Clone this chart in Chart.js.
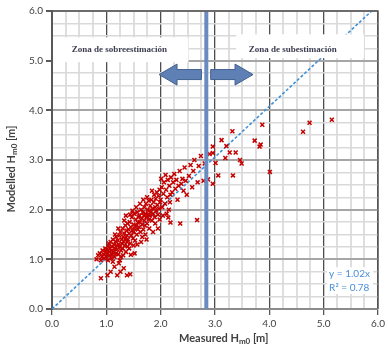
<!DOCTYPE html>
<html>
<head>
<meta charset="utf-8">
<script src="https://cdn.jsdelivr.net/npm/chart.js@4/dist/chart.umd.min.js"></script>
<style>
  body { margin: 0; background: #fff; }
</style>
</head>
<body>
<canvas id="waveChart" width="388" height="345"></canvas>
<script>
// measured vs modelled Hm0 [m]
const measuredH = [
  0.82, 0.85, 0.88, 0.90, 0.92, 0.93, 0.95, 0.96, 0.98, 0.99,
  0.90, 1.02, 1.08, 1.20, 1.26, 1.38, 1.44, 1.23, 1.15, 1.32,
  1.00, 1.01, 1.02, 1.03, 1.04, 1.05, 1.06, 1.07, 1.08, 1.09,
  1.10, 1.10, 1.11, 1.12, 1.13, 1.14, 1.15, 1.16, 1.17, 1.18,
  1.18, 1.19, 1.05, 1.12, 1.16,
  1.20, 1.21, 1.22, 1.23, 1.24, 1.25, 1.26, 1.27, 1.28, 1.29,
  1.30, 1.30, 1.31, 1.32, 1.33, 1.34, 1.35, 1.35, 1.36, 1.37,
  1.38, 1.38, 1.39, 1.39, 1.22, 1.27, 1.33, 1.36, 1.25, 1.31,
  1.40, 1.41, 1.42, 1.43, 1.44, 1.45, 1.46, 1.47, 1.48, 1.49,
  1.50, 1.50, 1.51, 1.52, 1.53, 1.54, 1.55, 1.56, 1.57, 1.58,
  1.58, 1.59, 1.42, 1.48, 1.55, 1.45, 1.52, 1.57, 1.44, 1.50,
  1.60, 1.61, 1.62, 1.63, 1.64, 1.65, 1.66, 1.67, 1.68, 1.69,
  1.70, 1.70, 1.71, 1.72, 1.73, 1.74, 1.75, 1.76, 1.77, 1.78,
  1.78, 1.79, 1.62, 1.66, 1.72, 1.75, 1.68, 1.79, 1.64, 1.74,
  1.80, 1.81, 1.82, 1.83, 1.84, 1.85, 1.86, 1.87, 1.88, 1.89,
  1.90, 1.91, 1.92, 1.93, 1.94, 1.95, 1.96, 1.97, 1.98, 1.99,
  1.84, 1.90, 1.95, 1.86, 1.98,
  2.00, 2.02, 2.03, 2.05, 2.06, 2.08, 2.10, 2.12, 2.13, 2.15,
  2.16, 2.18, 2.19, 2.04, 2.11, 2.14, 2.18, 2.09, 2.17, 2.01,
  2.21, 2.23, 2.25, 2.27, 2.29, 2.31, 2.33, 2.35, 2.36, 2.38,
  2.40, 2.42, 2.44, 2.46, 2.48,
  2.52, 2.55, 2.58, 2.60, 2.62, 2.67, 2.68, 2.70, 2.74, 2.79,
  2.81, 2.87, 2.90, 2.96, 2.96, 2.96, 3.01,
  3.06, 3.19, 3.21, 3.27, 3.32, 3.33, 3.38, 3.46, 3.49, 3.12,
  3.73, 3.82, 3.84, 3.87, 4.01, 4.62, 4.74, 5.15
];
const modelledH = [
  1.00, 1.08, 1.12, 0.98, 1.05, 1.18, 1.10, 1.02, 1.22, 1.14,
  0.62, 0.68, 0.75, 0.68, 0.75, 0.68, 0.70, 0.92, 0.85, 0.82,
  1.05, 1.20, 1.12, 0.98, 1.28, 1.15, 1.08, 1.22, 1.35, 1.02,
  1.18, 1.26, 1.10, 1.40, 1.15, 1.30, 1.05, 1.22, 1.36, 1.12,
  1.45, 1.28, 1.32, 0.95, 1.50,
  1.20, 1.38, 1.10, 1.30, 1.48, 1.25, 1.55, 1.18, 1.40, 1.32,
  1.62, 1.22, 1.45, 1.36, 1.52, 1.28, 1.68, 1.42, 1.15, 1.58,
  1.35, 1.48, 1.72, 1.26, 1.62, 1.05, 1.78, 1.88, 0.98, 1.08,
  1.40, 1.60, 1.52, 1.75, 1.32, 1.65, 1.48, 1.85, 1.58, 1.42,
  1.70, 1.55, 1.92, 1.62, 1.38, 1.80, 1.68, 1.50, 1.95, 1.74,
  1.60, 1.85, 1.22, 1.98, 2.05, 1.09, 1.12, 1.30, 1.90, 1.28,
  1.65, 1.88, 1.75, 1.55, 2.00, 1.82, 1.70, 1.95, 1.60, 1.88,
  2.05, 1.78, 1.68, 1.92, 2.12, 1.85, 1.72, 2.00, 1.90, 2.18,
  1.80, 1.98, 2.12, 1.45, 1.50, 2.25, 2.20, 1.62, 1.35, 1.40,
  1.88, 2.08, 1.95, 2.20, 1.78, 2.02, 1.92, 2.15, 2.30, 1.85,
  2.05, 2.22, 1.98, 2.35, 2.10, 1.90, 2.28, 2.02, 2.40, 2.15,
  2.38, 1.72, 1.62, 1.55, 1.80,
  2.20, 2.45, 2.05, 2.32, 2.55, 2.12, 2.40, 2.25, 2.60, 2.00,
  2.48, 2.30, 2.65, 1.88, 1.92, 1.84, 1.74, 2.70, 2.15, 2.62,
  2.35, 2.55, 2.72, 2.42, 2.60, 2.20, 2.48, 2.78, 1.72, 2.52,
  2.62, 2.38, 2.85, 2.58, 2.30,
  2.68, 2.90, 2.45, 2.78, 3.00, 1.79, 2.55, 2.88, 3.08, 2.58,
  2.93, 2.61, 3.12, 2.52, 3.27, 3.14, 2.94,
  2.69, 3.04, 3.28, 3.15, 3.58, 2.69, 3.15, 3.00, 2.93, 3.40,
  3.39, 3.27, 3.31, 3.71, 2.76, 3.57, 3.75, 3.81
];
const axisMin = 0;
const axisMax = 6;
const trendSlope = 1.02;
const trendR2 = 0.78;
const zoneLimit = 2.84;   // measured Hm0 splitting the two zones

const samples = measuredH.map((x, i) => ({ x: x, y: modelledH[i] }));
const trendLine = [{ x: 0, y: 0 }, { x: axisMax / trendSlope, y: axisMax }];

const isMajor = (v) => Math.abs(v - Math.round(v)) < 1e-6;

// text with a subscript part, centred on (0,0) of the current transform
function drawSubText(ctx, parts) {
  let total = 0;
  parts.forEach(p => { ctx.font = p.font; p.w = ctx.measureText(p.text).width; total += p.w; });
  let x = -total / 2;
  parts.forEach(p => {
    ctx.font = p.font;
    ctx.fillText(p.text, x, p.dy);
    x += p.w;
  });
}

function drawArrow(ctx, tailX, tipX, cy, shaftHalf, headHalf, headLen) {
  const dir = tipX > tailX ? 1 : -1;
  const baseX = tipX - dir * headLen;
  ctx.beginPath();
  ctx.moveTo(tailX, cy - shaftHalf);
  ctx.lineTo(baseX, cy - shaftHalf);
  ctx.lineTo(baseX, cy - headHalf);
  ctx.lineTo(tipX, cy);
  ctx.lineTo(baseX, cy + headHalf);
  ctx.lineTo(baseX, cy + shaftHalf);
  ctx.lineTo(tailX, cy + shaftHalf);
  ctx.closePath();
  ctx.fill();
  ctx.stroke();
}

const overlayPlugin = {
  id: 'overlay',
  afterDatasetsDraw(chart) {
    const ctx = chart.ctx;
    const xs = chart.scales.x;
    const ys = chart.scales.y;
    const area = chart.chartArea;
    ctx.save();

    // zone boxes
    ctx.fillStyle = '#ffffff';
    let x0 = xs.getPixelForValue(0.02), x1 = xs.getPixelForValue(2.51);
    let y0 = ys.getPixelForValue(5.47), y1 = ys.getPixelForValue(4.97);
    ctx.fillRect(x0, y0, x1 - x0, y1 - y0);
    x0 = xs.getPixelForValue(3.39); x1 = xs.getPixelForValue(5.74);
    y0 = ys.getPixelForValue(5.53); y1 = ys.getPixelForValue(5.05);
    ctx.fillRect(x0, y0, x1 - x0, y1 - y0);

    ctx.fillStyle = '#3c3c50';
    ctx.font = 'bold 9px "Liberation Serif"';
    ctx.textAlign = 'center';
    ctx.textBaseline = 'middle';
    ctx.fillText('Zona de sobreestimación', xs.getPixelForValue(1.24), ys.getPixelForValue(5.23));
    ctx.fillText('Zona de subestimación', xs.getPixelForValue(4.43), ys.getPixelForValue(5.23));

    // vertical limit line
    ctx.strokeStyle = '#6a8bbf';
    ctx.lineWidth = 4;
    ctx.beginPath();
    ctx.moveTo(xs.getPixelForValue(zoneLimit), area.top);
    ctx.lineTo(xs.getPixelForValue(zoneLimit), area.bottom);
    ctx.stroke();

    // arrows
    ctx.fillStyle = '#5f80b4';
    ctx.strokeStyle = '#41608f';
    ctx.lineWidth = 1;
    const ay = ys.getPixelForValue(4.72);
    drawArrow(ctx, xs.getPixelForValue(2.75), xs.getPixelForValue(1.97), ay, 5, 10.5, 18);
    drawArrow(ctx, xs.getPixelForValue(2.92), xs.getPixelForValue(3.70), ay, 5, 10.5, 18);

    // regression label
    const lx = xs.getPixelForValue(5.10);
    ctx.fillStyle = '#ffffff';
    ctx.fillRect(lx - 2, ys.getPixelForValue(0.84), 46, ys.getPixelForValue(0.30) - ys.getPixelForValue(0.84));
    ctx.fillStyle = '#4a8fd6';
    ctx.font = '10px Lato';
    ctx.textAlign = 'left';
    ctx.fillText('y = ' + trendSlope.toFixed(2) + 'x', lx, ys.getPixelForValue(0.70));
    ctx.fillText('R² = ' + trendR2.toFixed(2), lx, ys.getPixelForValue(0.43));

    // dark frame on top and right
    ctx.strokeStyle = '#595959';
    ctx.lineWidth = 1.3;
    ctx.beginPath();
    ctx.moveTo(area.left, area.top);
    ctx.lineTo(area.right, area.top);
    ctx.lineTo(area.right, area.bottom);
    ctx.stroke();
    ctx.restore();
  },
  afterDraw(chart) {
    const ctx = chart.ctx;
    const area = chart.chartArea;
    const xs = chart.scales.x;
    ctx.save();
    ctx.fillStyle = '#404040';
    ctx.textAlign = 'left';
    ctx.textBaseline = 'middle';
    const titleParts = (label) => [
      { text: label + ' H', font: 'bold 11px Lato', dy: 0 },
      { text: 'm0', font: 'bold 8px Lato', dy: 3 },
      { text: ' [m]', font: 'bold 11px Lato', dy: 0 }
    ];
    ctx.save();
    ctx.translate(xs.getPixelForValue(3.16), 338);
    drawSubText(ctx, titleParts('Measured'));
    ctx.restore();
    ctx.save();
    ctx.translate(11, (area.top + area.bottom) / 2 + 9);
    ctx.rotate(-Math.PI / 2);
    drawSubText(ctx, titleParts('Modelled'));
    ctx.restore();
    ctx.restore();
  }
};

const gridOpts = (majorColor, minorColor, majorWidth, minorWidth) => ({
  color: (c) => isMajor(c.tick.value) ? majorColor : minorColor,
  lineWidth: (c) => isMajor(c.tick.value) ? majorWidth : minorWidth,
  tickColor: (c) => isMajor(c.tick.value) ? '#595959' : 'rgba(0,0,0,0)',
  tickLength: 6,
  drawTicks: true
});

new Chart(document.getElementById('waveChart'), {
  type: 'scatter',
  data: {
    datasets: [{
      label: 'Hm0',
      data: samples,
      pointStyle: 'crossRot',
      pointRadius: 2.8,
      borderColor: '#c40000',
      borderWidth: 1.5,
      backgroundColor: 'rgba(200,0,0,0.15)'
    }, {
      label: 'trend',
      data: trendLine,
      showLine: true,
      borderColor: '#3d8fd9',
      borderWidth: 1.6,
      borderDash: [3, 2],
      pointRadius: 0
    }]
  },
  options: {
    responsive: false,
    animation: false,
    devicePixelRatio: 1,
    layout: { padding: { top: 11, right: 7, left: 0, bottom: 0 } },
    plugins: {
      legend: { display: false },
      tooltip: { enabled: false }
    },
    scales: {
      x: {
        min: axisMin,
        max: axisMax,
        afterFit: (s) => { s.height = 36; },
        ticks: {
          stepSize: 0.25,
          autoSkip: false,
          maxRotation: 0,
          padding: 3,
          color: '#404040',
          font: { family: 'Lato', size: 10 },
          callback: (v) => isMajor(v) ? Number(v).toFixed(1) : ''
        },
        grid: gridOpts('#4d4d4d', '#dedede', 1.3, 2),
        border: { color: '#8c8c8c', width: 2 }
      },
      y: {
        min: axisMin,
        max: axisMax,
        afterFit: (s) => { s.width = 52; },
        ticks: {
          stepSize: 0.25,
          autoSkip: false,
          padding: 3,
          color: '#404040',
          font: { family: 'Lato', size: 10 },
          callback: (v) => isMajor(v) ? Number(v).toFixed(1) : ''
        },
        grid: gridOpts('#a6a6a6', '#d9d9d9', 2, 1.5),
        border: { color: '#595959', width: 2 }
      }
    }
  },
  plugins: [overlayPlugin]
});
</script>
</body>
</html>
